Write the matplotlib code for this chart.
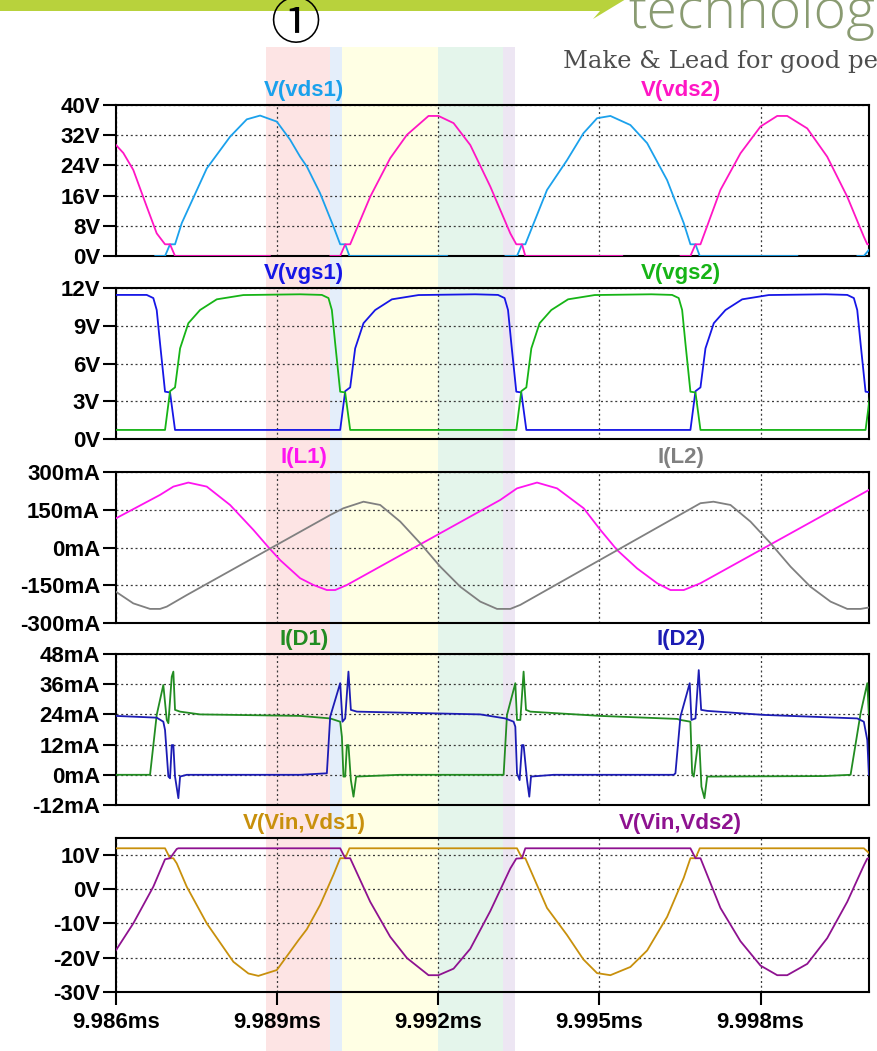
import matplotlib
matplotlib.use("Agg")
import matplotlib.pyplot as plt
from matplotlib.patches import Rectangle, Polygon
from matplotlib.transforms import blended_transform_factory

W, H = 878, 1051
plt.rcParams['font.family'] = ['Liberation Sans', 'DejaVu Sans']

# ---------------- time axis (microseconds) ----------------
T_START, T_END = 9986.0, 10000.02
X_TICKS = [9986, 9989, 9992, 9995, 9998]
X_TICK_LABELS = ['9.986ms', '9.989ms', '9.992ms', '9.995ms', '9.998ms']

# operating-interval shading (start, end, colour)
BANDS = [(9988.795, 9989.988, '#fde4e4'),
         (9989.988, 9990.211, '#e4eefa'),
         (9990.211, 9992.000, '#ffffe4'),
         (9992.000, 9993.211, '#e4f5eb'),
         (9993.211, 9993.435, '#ede6f3')]

# ---------------- drain-source voltages (V) ----------------
VDS1 = [(9986.000, -0.6), (9986.700, -0.6), (9986.727, 0.0), (9986.913, 0.0), (9987.006, 3.1),
        (9987.099, 3.1), (9987.224, 8.7), (9987.690, 23.2), (9988.124, 31.6), (9988.435, 36.2),
        (9988.683, 37.2), (9988.994, 35.6), (9989.242, 30.8), (9989.428, 26.3), (9989.553, 23.7),
        (9989.801, 16.6), (9990.049, 7.8), (9990.174, 3.1), (9990.267, 3.1), (9990.347, 0.0),
        (9992.168, 0.0), (9992.186, -0.6), (9993.211, -0.6), (9993.248, 0.0), (9993.466, 0.0),
        (9993.559, 3.1), (9993.621, 3.1), (9994.025, 17.5), (9994.398, 25.4), (9994.702, 32.5),
        (9994.957, 36.5), (9995.205, 37.1), (9995.577, 34.7), (9995.889, 29.9), (9996.261, 20.1),
        (9996.571, 8.7), (9996.695, 3.1), (9996.789, 3.1), (9996.869, 0.0), (9998.689, 0.0),
        (9998.708, -0.6), (9999.770, -0.6), (9999.801, 0.0), (9999.924, 0.0), (10000.018, 1.6)]

VDS2 = [(9986.000, 29.4), (9986.136, 27.3), (9986.322, 22.8), (9986.572, 13.1), (9986.758, 6.0),
        (9986.913, 3.1), (9987.006, 3.1), (9987.099, 0.0), (9988.869, 0.0), (9988.888, -0.6),
        (9989.969, -0.6), (9989.988, 0.0), (9990.174, 0.0), (9990.267, 3.1), (9990.360, 3.1),
        (9990.733, 15.7), (9991.105, 25.9), (9991.417, 32.1), (9991.819, 37.1), (9992.005, 37.1),
        (9992.285, 35.2), (9992.596, 29.4), (9992.969, 18.4), (9993.341, 6.0), (9993.453, 3.1),
        (9993.559, 3.1), (9993.621, 0.0), (9995.428, 0.0), (9995.447, -0.6), (9996.490, -0.6),
        (9996.509, 0.0), (9996.695, 0.0), (9996.789, 3.1), (9996.882, 3.1), (9997.254, 17.5),
        (9997.627, 27.2), (9998.000, 34.3), (9998.311, 37.1), (9998.497, 37.1), (9998.870, 33.8),
        (9999.242, 26.3), (9999.615, 15.7), (9999.924, 5.1), (9999.988, 3.1), (10000.030, 3.1)]

# ---------------- gate-source voltages (V) ----------------
VGS1 = [(9986.000, 11.45), (9986.572, 11.45), (9986.695, 11.2), (9986.758, 10.25), (9986.820, 7.6),
        (9986.913, 3.76), (9987.006, 3.7), (9987.099, 0.72), (9990.174, 0.72), (9990.267, 3.8),
        (9990.360, 4.1), (9990.453, 7.2), (9990.608, 9.2), (9990.826, 10.25), (9991.137, 11.1),
        (9991.633, 11.44), (9992.689, 11.5), (9993.112, 11.45), (9993.235, 11.2), (9993.299, 10.25),
        (9993.360, 7.6), (9993.453, 3.76), (9993.546, 3.7), (9993.640, 0.72), (9996.695, 0.72),
        (9996.789, 3.8), (9996.882, 4.1), (9996.975, 7.2), (9997.130, 9.2), (9997.348, 10.25),
        (9997.659, 11.1), (9998.154, 11.44), (9999.211, 11.5), (9999.615, 11.45), (9999.738, 11.2),
        (9999.801, 10.25), (9999.863, 7.6), (9999.956, 3.76), (10000.049, 3.7)]

VGS2 = [(9986.000, 0.72), (9986.913, 0.72), (9987.006, 3.8), (9987.099, 4.1), (9987.193, 7.2),
        (9987.347, 9.2), (9987.565, 10.25), (9987.876, 11.1), (9988.372, 11.44), (9989.428, 11.5),
        (9989.833, 11.45), (9989.956, 11.2), (9990.019, 10.25), (9990.081, 7.6), (9990.174, 3.76),
        (9990.267, 3.7), (9990.360, 0.72), (9993.453, 0.72), (9993.546, 3.8), (9993.640, 4.1),
        (9993.733, 7.2), (9993.887, 9.2), (9994.105, 10.25), (9994.417, 11.1), (9994.912, 11.44),
        (9995.969, 11.5), (9996.354, 11.45), (9996.477, 11.2), (9996.541, 10.25), (9996.602, 7.6),
        (9996.695, 3.76), (9996.789, 3.7), (9996.882, 0.72), (9999.956, 0.72), (10000.049, 3.8)]

# ---------------- inductor currents (mA) ----------------
IL1 = [(9986.000, 116), (9986.820, 209), (9987.068, 242), (9987.347, 258), (9987.690, 242),
       (9988.124, 169), (9988.558, 70), (9988.838, 1), (9989.056, -50), (9989.428, -122),
       (9989.676, -149), (9989.926, -169), (9990.081, -169), (9990.299, -149), (9993.155, 189),
       (9993.466, 235), (9993.839, 258), (9994.212, 235), (9994.707, 156), (9995.018, 70),
       (9995.330, -10), (9995.702, -83), (9996.075, -142), (9996.323, -169), (9996.571, -169),
       (9996.882, -142), (10000.030, 230)]

IL2 = [(9986.000, -176), (9986.322, -222), (9986.634, -244), (9986.820, -244), (9986.945, -235),
       (9987.317, -189), (9989.988, 129), (9990.235, 156), (9990.608, 182), (9990.919, 169),
       (9991.292, 103), (9991.664, 17), (9992.037, -76), (9992.410, -156), (9992.782, -215),
       (9993.094, -244), (9993.341, -244), (9993.528, -228), (9996.882, 176), (9997.124, 182),
       (9997.441, 169), (9997.813, 103), (9998.186, 17), (9998.559, -76), (9998.931, -156),
       (9999.304, -215), (9999.615, -244), (9999.863, -244), (10000.030, -238)]

# ---------------- diode currents (mA) ----------------
ID1 = [(9986.000, 0.0), (9986.634, 0.0), (9986.758, 23.8), (9986.881, 35.7), (9986.945, 21.8),
       (9986.975, 20.5), (9987.038, 39.0), (9987.068, 41.0), (9987.099, 25.8), (9987.193, 25.1),
       (9987.565, 24.0), (9989.428, 23.4), (9989.988, 22.4), (9990.174, 21.1), (9990.206, 15.1),
       (9990.235, -0.7), (9990.267, -0.7), (9990.299, 11.8), (9990.328, 11.8), (9990.373, -2.1),
       (9990.422, -8.7), (9990.472, -0.7), (9991.292, 0.0), (9993.217, 0.0), (9993.280, 23.8),
       (9993.435, 36.4), (9993.466, 21.8), (9993.528, 21.8), (9993.589, 41.0), (9993.634, 25.8),
       (9993.714, 25.1), (9995.018, 23.4), (9996.448, 22.2), (9996.509, 21.8), (9996.695, 21.1),
       (9996.727, 0.6), (9996.757, -0.7), (9996.831, 11.8), (9996.863, 11.8), (9996.900, -4.7),
       (9996.956, -9.3), (9997.007, -0.7), (9999.179, -0.5), (9999.677, 0.0), (9999.863, 24.4),
       (9999.988, 36.4), (10000.018, 24.0)]

ID2 = [(9986.000, 23.4), (9986.758, 22.7), (9986.881, 21.1), (9986.913, 17.8), (9986.975, -0.7),
       (9987.006, -1.4), (9987.038, 11.8), (9987.068, 11.8), (9987.099, -0.7), (9987.161, -9.3),
       (9987.193, -0.7), (9987.317, 0.0), (9989.428, 0.0), (9989.926, 0.6), (9989.988, 23.1),
       (9990.174, 36.4), (9990.217, 21.1), (9990.267, 22.4), (9990.328, 41.0), (9990.373, 25.8),
       (9990.485, 25.1), (9992.782, 24.0), (9993.248, 22.4), (9993.403, 21.1), (9993.435, 19.1),
       (9993.466, 0.6), (9993.515, -2.1), (9993.559, 11.8), (9993.589, 11.8), (9993.653, -2.1),
       (9993.695, -8.7), (9993.727, -0.7), (9994.148, 0.0), (9996.384, 0.0), (9996.416, 0.6),
       (9996.509, 23.1), (9996.682, 36.4), (9996.714, 21.8), (9996.789, 22.4), (9996.850, 41.6),
       (9996.895, 25.8), (9997.007, 25.4), (9998.061, 23.8), (9999.801, 22.4), (9999.924, 21.1),
       (9999.988, 13.8), (10000.018, 0.0)]

# ---------------- input-to-drain voltages (V) ----------------
VIN_VDS1 = [(9986.000, 11.9), (9986.913, 11.9), (9987.006, 9.0), (9987.068, 9.0), (9987.131, 7.5),
            (9987.317, 0.7), (9987.690, -10.0), (9988.186, -21.2), (9988.465, -24.6), (9988.651, -25.3),
            (9988.994, -23.6), (9989.397, -14.9), (9989.553, -11.7), (9989.801, -4.6), (9990.049, 4.2),
            (9990.174, 9.0), (9990.267, 9.0), (9990.347, 11.9), (9993.466, 11.9), (9993.559, 9.0),
            (9993.621, 9.0), (9994.025, -5.5), (9994.398, -13.4), (9994.702, -20.5), (9994.957, -24.5),
            (9995.205, -25.1), (9995.577, -22.7), (9995.889, -17.9), (9996.261, -8.1), (9996.571, 3.3),
            (9996.695, 9.0), (9996.789, 9.0), (9996.869, 11.9), (9999.924, 11.9), (10000.030, 10.4)]

VIN_VDS2 = [(9986.000, -17.8), (9986.322, -10.0), (9986.695, 0.7), (9986.913, 8.7), (9987.006, 9.0),
            (9987.131, 11.7), (9987.161, 11.9), (9990.174, 11.9), (9990.267, 9.0), (9990.360, 9.0),
            (9990.733, -3.7), (9991.105, -13.9), (9991.417, -20.1), (9991.819, -25.1), (9992.005, -25.1),
            (9992.285, -23.2), (9992.596, -17.4), (9992.969, -6.4), (9993.341, 6.0), (9993.453, 8.9),
            (9993.559, 9.0), (9993.621, 11.9), (9996.695, 11.9), (9996.789, 9.0), (9996.882, 9.0),
            (9997.254, -5.5), (9997.627, -15.2), (9998.000, -22.3), (9998.311, -25.1), (9998.497, -25.1),
            (9998.870, -21.8), (9999.242, -14.3), (9999.615, -3.7), (9999.924, 6.9), (9999.988, 8.9),
            (10000.030, 9.0)]

# ---------------- panel definitions ----------------
PANELS = [
    dict(top=105, bottom=256, ylim=(0, 40),
         yticks=[0, 8, 16, 24, 32, 40], ylabels=['0V', '8V', '16V', '24V', '32V', '40V'],
         traces=[('V(vds1)', VDS1, '#1ba1ec'), ('V(vds2)', VDS2, '#ff16c4')]),
    dict(top=288, bottom=439, ylim=(0, 12),
         yticks=[0, 3, 6, 9, 12], ylabels=['0V', '3V', '6V', '9V', '12V'],
         traces=[('V(vgs1)', VGS1, '#1616e6'), ('V(vgs2)', VGS2, '#16b416')]),
    dict(top=472, bottom=623, ylim=(-300, 300),
         yticks=[-300, -150, 0, 150, 300], ylabels=['-300mA', '-150mA', '0mA', '150mA', '300mA'],
         traces=[('I(L1)', IL1, '#ff14f0'), ('I(L2)', IL2, '#808080')]),
    dict(top=654, bottom=805, ylim=(-12, 48),
         yticks=[-12, 0, 12, 24, 36, 48], ylabels=['-12mA', '0mA', '12mA', '24mA', '36mA', '48mA'],
         traces=[('I(D1)', ID1, '#228c22'), ('I(D2)', ID2, '#1c1cb4')]),
    dict(top=838, bottom=992, ylim=(-30, 14.9),
         yticks=[-30, -20, -10, 0, 10], ylabels=['-30V', '-20V', '-10V', '0V', '10V'],
         traces=[('V(Vin,Vds1)', VIN_VDS1, '#c8900c'), ('V(Vin,Vds2)', VIN_VDS2, '#8e1290')]),
]

AX_LEFT, AX_RIGHT = 116, 869
FONT = 16

fig = plt.figure(figsize=(W / 100, H / 100), dpi=100)
fig.patch.set_facecolor('white')


def fx(x):
    return x / W


def fy(y):
    return 1 - y / H


axes = []
for i, p in enumerate(PANELS):
    ax = fig.add_axes([fx(AX_LEFT), fy(p['bottom']), (AX_RIGHT - AX_LEFT) / W,
                       (p['bottom'] - p['top']) / H])
    ax.set_facecolor('none')
    ax.set_xlim(T_START, T_END)
    ax.set_ylim(*p['ylim'])
    ax.set_yticks(p['yticks'], p['ylabels'], fontsize=FONT, fontweight='bold')
    ax.tick_params(axis='y', direction='out', length=9.5, width=1.5, pad=2, colors='black')
    last = i == len(PANELS) - 1
    if last:
        ax.set_xticks(X_TICKS, X_TICK_LABELS, fontsize=FONT, fontweight='bold')
        ax.tick_params(axis='x', direction='out', length=9.5, width=1.5, pad=5)
    else:
        ax.set_xticks(X_TICKS, [''] * len(X_TICKS))
        ax.tick_params(axis='x', length=0)
    ax.grid(True, linestyle=(0, (1.6, 2.2)), linewidth=0.9, color='#3a3a3a')
    ax.set_axisbelow(True)
    for s in ax.spines.values():
        s.set_linewidth(1.5)
        s.set_color('black')
        s.set_zorder(2.5)
    for k, (name, pts, col) in enumerate(p['traces']):
        t = [a for a, b in pts]
        v = [b for a, b in pts]
        ax.plot(t, v, color=col, lw=1.3, zorder=3)
        ax.annotate(name, xy=(0.25 + 0.5 * k, 1.0), xycoords='axes fraction',
                    xytext=(0, 3), textcoords='offset points',
                    ha='center', va='bottom', color=col,
                    fontsize=FONT, fontweight='bold')
    axes.append(ax)

# shaded intervals spanning all panels
band_tr = blended_transform_factory(axes[-1].transData, fig.transFigure)
for t0, t1, col in BANDS:
    fig.patches.append(Rectangle((t0, 0), t1 - t0, fy(47), transform=band_tr,
                                 facecolor=col, edgecolor='none', zorder=-5))

# header decoration
arrow = Polygon([(fx(0), fy(-1)), (fx(0), fy(11)), (fx(600), fy(11)), (fx(593), fy(19)),
                 (fx(626), fy(-1))], closed=True, transform=fig.transFigure,
                facecolor='#b8d23c', edgecolor='none', zorder=1)
fig.patches.append(arrow)
fig.text(fx(628), fy(28), 'technolog', fontsize=40, color='#8a9b72',
         family=['Open Sans', 'DejaVu Sans'], fontweight='light', ha='left', va='baseline')
fig.text(fx(563), fy(68), 'Make & Lead for good pe', fontsize=17.5, color='#4d4d4d',
         family=['DejaVu Serif'], ha='left', va='baseline')
fig.text(fx(295), fy(25), '\u2460', fontsize=36, color='black',
         family=['Noto Sans CJK JP', 'DejaVu Sans'], ha='center', va='center')

fig.savefig('out.png', dpi=100)
